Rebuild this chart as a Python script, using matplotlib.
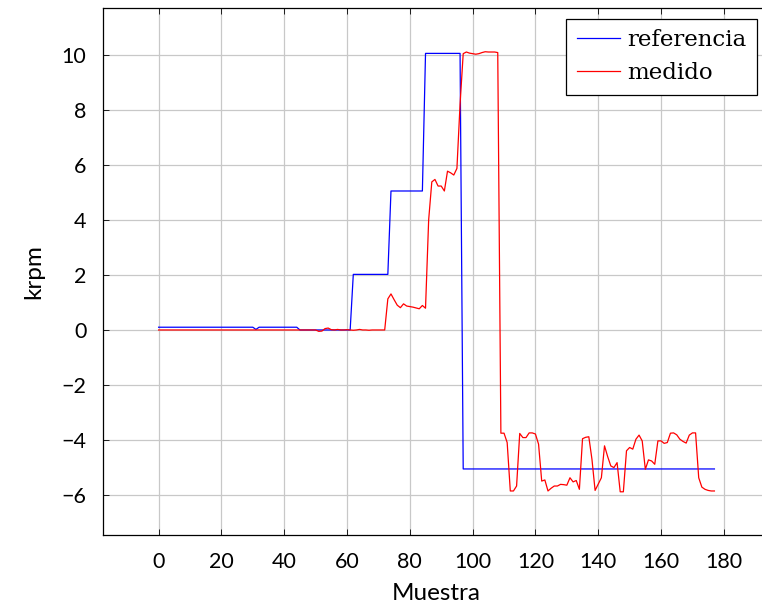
import numpy as np
import matplotlib
matplotlib.use('Agg')
import matplotlib.pyplot as plt

# Datos (muestras 0..177)
muestra = np.arange(0, 178)

referencia = ([0.1] * 31 + [0.02] + [0.1] * 13 + [0.0] * 17
              + [2.02] * 12 + [5.05] * 11 + [10.05] * 12 + [-5.05] * 81)

medido = ([0.0] * 51
          + [-0.05, -0.04, 0.05, 0.07, 0.01, 0.0, 0.02, 0.0, 0.0, 0.01, 0.0, -0.01,
             0.0, 0.02, 0.0, 0.0, -0.01, 0.0, 0.0, 0.0, 0.0, 0.0]
          + [1.13, 1.31, 1.1, 0.9, 0.81, 0.95, 0.87, 0.85, 0.83, 0.8, 0.77, 0.89, 0.79]
          + [4.0, 5.38, 5.47, 5.23, 5.23, 5.05, 5.77, 5.71, 5.63, 5.87, 8.2]
          + [10.04, 10.1, 10.06, 10.04, 10.02, 10.04, 10.08, 10.11, 10.1, 10.1, 10.1, 10.08]
          + [-3.75, -3.75, -4.09, -5.85, -5.85, -5.67, -3.76, -3.91, -3.91, -3.74,
             -3.74, -3.78, -4.15, -5.49, -5.45, -5.85, -5.75, -5.67, -5.67, -5.61,
             -5.62, -5.64, -5.37, -5.52, -5.47, -5.79, -3.95, -3.90, -3.88, -4.70,
             -5.83, -5.60, -5.37, -4.21, -4.60, -4.94, -5.00, -4.82, -5.88, -5.88,
             -4.39, -4.27, -4.33, -3.97, -3.82, -4.03, -5.06, -4.72, -4.76, -4.88,
             -4.03, -4.03, -4.12, -4.09, -3.75, -3.74, -3.81, -3.97, -4.05, -4.11,
             -3.82, -3.74, -3.74, -5.37, -5.71, -5.79, -5.83, -5.85, -5.85])

xticks = np.arange(0, 181, 20)
yticks = np.arange(-6, 11, 2)

tick_font = ['Lato', 'DejaVu Sans']
leg_font = ['DejaVu Serif']

fig = plt.figure(figsize=(7.62, 6.09), dpi=100)
ax = fig.add_axes([0.1352, 0.1215, 0.8753, 0.8654])

ax.plot(muestra, referencia, '-', color=(0, 0, 1), linewidth=0.9, label='referencia')
ax.plot(muestra, medido, '-', color=(1, 0, 0), linewidth=0.9, label='medido')

ax.set_xlim(-17.7, 194.7)
ax.set_ylim(-7.45, 11.7)
ax.set_xticks(xticks)
ax.set_yticks(yticks)
ax.grid(True, color='#c8c8c8', linewidth=0.9)
ax.set_axisbelow(True)
ax.tick_params(direction='in', length=4, width=0.6, top=True, right=True,
               labelsize=15.5, pad=12)
for lab in ax.get_xticklabels() + ax.get_yticklabels():
    lab.set_family(tick_font)
for s in ax.spines.values():
    s.set_linewidth(0.9)

ax.set_xlabel('Muestra', fontsize=17.5, family=tick_font, labelpad=8)
ax.set_ylabel('krpm', fontsize=17.5, family=tick_font, labelpad=12)

leg = ax.legend(loc='upper right', bbox_to_anchor=(0.98, 0.98), fancybox=False,
                edgecolor='black', framealpha=1, borderaxespad=0,
                prop={'family': leg_font, 'size': 16.5}, handlelength=1.9,
                handletextpad=0.3, borderpad=0.45, labelspacing=0.5)
leg.get_frame().set_linewidth(0.9)

fig.savefig('out.png', dpi=100)
